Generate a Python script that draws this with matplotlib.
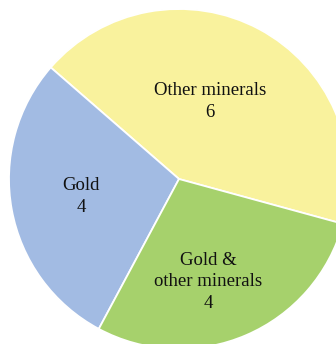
import matplotlib
matplotlib.use("Agg")
import matplotlib.pyplot as plt

# Deposit counts by mineral type
labels = ["Other minerals", "Gold", "Gold &\nother minerals"]
counts = [6, 4, 4]
colors = ["#F9F29D", "#A2BBE3", "#A6D16C"]

fig = plt.figure(figsize=(3.36, 3.44), dpi=100)
ax = fig.add_axes([0, 0, 1, 1])

cx, cy, r = 179, 165, 170
wedges, _ = ax.pie(counts, colors=colors, startangle=-15.3, counterclock=True,
                   center=(cx, cy), radius=r, frame=True,
                   wedgeprops=dict(edgecolor="white", linewidth=1.3))
ax.set_xlim(0, 336)
ax.set_ylim(0, 344)
ax.set_aspect("equal")
ax.axis("off")

# label anchors (pixel space, y up)
label_pos = [(210, 242.5), (81, 147.5), (208, 62)]
for (tx, ty), lab, n in zip(label_pos, labels, counts):
    ax.text(tx, ty, f"{lab}\n{n}", ha="center", va="center",
            fontsize=13.5, family="Liberation Serif", linespacing=1.32,
            color="#111111")

fig.savefig("out.png", dpi=100, facecolor="white")
